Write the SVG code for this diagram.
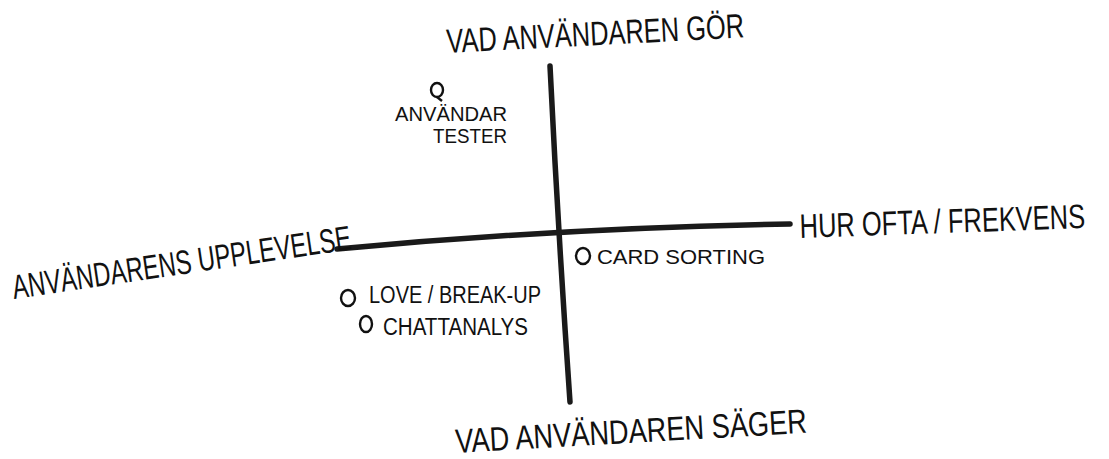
<svg xmlns="http://www.w3.org/2000/svg" width="1109" height="459" viewBox="0 0 1109 459">
<style>
text{font-family:"Liberation Sans","DejaVu Sans",sans-serif;fill:#111;}
.axis{stroke:#1a1a1a;stroke-width:5.5;stroke-linecap:round;fill:none;}
.dot{stroke:#111;stroke-width:2.4;fill:none;}
.big{font-size:34px;}
.small{font-size:20px;}
.mid{font-size:23px;}
</style>
<rect width="1109" height="459" fill="#fff"/>
<g id="axes">
<path class="axis" d="M550,66 Q558,230 570,402"/>
<path class="axis" d="M337,249 Q560,228 790,224"/>
</g>
<g id="label-top">
<text class="big" x="447" y="53" textLength="298" lengthAdjust="spacingAndGlyphs" transform="rotate(-3 447 53)">VAD ANVÄNDAREN GÖR</text>
</g>
<g id="label-bottom">
<text class="big" x="456" y="453" textLength="352" lengthAdjust="spacingAndGlyphs" transform="rotate(-3.3 456 453)">VAD ANVÄNDAREN SÄGER</text>
</g>
<g id="label-left">
<text class="big" x="14" y="299" textLength="342" lengthAdjust="spacingAndGlyphs" transform="rotate(-8.4 14 299)">ANVÄNDARENS UPPLEVELSE</text>
</g>
<g id="label-right">
<text class="big" x="0" y="0" transform="translate(800 238) rotate(-2) scale(0.75 1)">HUR OFTA / FREKVENS</text>
</g>
<g id="item-anvandartester">
<ellipse class="dot" cx="437" cy="90" rx="6" ry="7"/>
<path class="dot" d="M437,97 L442,101"/>
<text class="small" x="395" y="121" textLength="112" lengthAdjust="spacingAndGlyphs">ANVÄNDAR</text>
<text class="small" x="433" y="143" textLength="74" lengthAdjust="spacingAndGlyphs">TESTER</text>
</g>
<g id="item-card-sorting">
<ellipse class="dot" cx="583" cy="256" rx="7" ry="8"/>
<text class="small" x="597" y="264" textLength="168" lengthAdjust="spacingAndGlyphs">CARD SORTING</text>
</g>
<g id="item-love-breakup">
<ellipse class="dot" cx="348" cy="298" rx="7" ry="8"/>
<text class="mid" x="369" y="303" textLength="172" lengthAdjust="spacingAndGlyphs">LOVE / BREAK-UP</text>
</g>
<g id="item-chattanalys">
<ellipse class="dot" cx="366" cy="324" rx="6" ry="8"/>
<text class="mid" x="383" y="335" textLength="145" lengthAdjust="spacingAndGlyphs">CHATTANALYS</text>
</g>
</svg>
